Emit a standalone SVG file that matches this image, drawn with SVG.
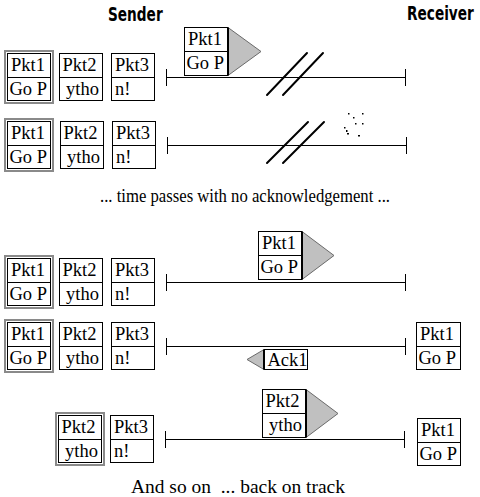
<svg xmlns="http://www.w3.org/2000/svg" width="480" height="497" viewBox="0 0 480 497">
<style>
  .box { fill: #fff; stroke: #000; stroke-width: 1; }
  .sel { fill: none; stroke: #8a8a8a; stroke-width: 2; }
  .div { stroke: #000; stroke-width: 1; }
  .t { font-family: "Liberation Serif", "Times New Roman", serif; font-size: 18.5px; fill: #000; }
  .cap { font-family: "Liberation Serif", "Times New Roman", serif; font-size: 18px; fill: #000; white-space: pre; }
  .hd { font-family: "DejaVu Sans Condensed", "Liberation Sans", sans-serif; font-size: 15.2px; font-weight: bold; fill: #000; }
  .wire { stroke: #000; stroke-width: 1; fill: none; }
  .tri { fill: #c0c0c0; stroke: #6a6a6a; stroke-width: 1; }
  .slash { stroke: #000; stroke-width: 2; stroke-linecap: round; }
</style>
<rect width="480" height="497" fill="#fff"/>

<text id="sender-title" class="hd" transform="translate(108,21) scale(1,1.25)" x="0" y="0">Sender</text>
<text id="receiver-title" class="hd" transform="translate(407,20) scale(1,1.25)" x="0" y="0">Receiver</text>

<g id="connectors">
  <!-- row 1 -->
  <line class="wire" x1="166" y1="77.5" x2="405" y2="77.5"/>
  <line class="wire" x1="166.5" y1="69" x2="166.5" y2="86"/>
  <line class="wire" x1="405.5" y1="69" x2="405.5" y2="86"/>
  <line class="slash" x1="267" y1="95" x2="307" y2="53"/>
  <line class="slash" x1="283" y1="95" x2="323" y2="53"/>
  <!-- row 2 -->
  <line class="wire" x1="167" y1="145.5" x2="406" y2="145.5"/>
  <line class="wire" x1="167.5" y1="137" x2="167.5" y2="154"/>
  <line class="wire" x1="406.5" y1="137" x2="406.5" y2="154"/>
  <line class="slash" x1="267" y1="163" x2="308" y2="122"/>
  <line class="slash" x1="283" y1="163" x2="324" y2="122"/>
  <g id="debris" fill="#000">
    <rect x="348" y="113" width="1.5" height="1.5"/>
    <rect x="362" y="113" width="1.5" height="1.5"/>
    <rect x="353" y="117" width="1.5" height="1.5"/>
    <rect x="355" y="123" width="1.5" height="1.5"/>
    <rect x="362" y="123" width="1.5" height="1.5"/>
    <rect x="344" y="127" width="1.5" height="1.5"/>
    <rect x="346" y="130" width="1.5" height="2"/>
    <rect x="347" y="133" width="2" height="1.5"/>
    <rect x="358" y="135" width="2" height="1.5"/>
  </g>
  <!-- row 3 -->
  <line class="wire" x1="166" y1="282.5" x2="405" y2="282.5"/>
  <line class="wire" x1="166.5" y1="274" x2="166.5" y2="291"/>
  <line class="wire" x1="405.5" y1="274" x2="405.5" y2="291"/>
  <!-- row 4 -->
  <line class="wire" x1="166" y1="346.5" x2="405" y2="346.5"/>
  <line class="wire" x1="166.5" y1="338" x2="166.5" y2="355"/>
  <line class="wire" x1="405.5" y1="338" x2="405.5" y2="355"/>
  <!-- row 5 -->
  <line class="wire" x1="165" y1="439.5" x2="404" y2="439.5"/>
  <line class="wire" x1="165.5" y1="431" x2="165.5" y2="448"/>
  <line class="wire" x1="404.5" y1="431" x2="404.5" y2="448"/>
</g>

<!-- Row 1 sender -->
<g id="r1-pkt1">
  <rect class="sel" x="5" y="51" width="48" height="52"/>
  <rect class="box" x="7.5" y="53.5" width="43" height="47"/>
  <line class="div" x1="7.5" y1="77.5" x2="50.5" y2="77.5"/>
  <text class="t" x="11" y="71">Pkt1</text>
  <text class="t" x="9.5" y="95">Go P</text>
</g>
<g id="r1-pkt2">
  <rect class="box" x="59.5" y="53.5" width="43" height="47"/>
  <line class="div" x1="59.5" y1="77.5" x2="102.5" y2="77.5"/>
  <text class="t" x="62.5" y="71">Pkt2</text>
  <text class="t" x="66" y="95">ytho</text>
</g>
<g id="r1-pkt3">
  <rect class="box" x="111.5" y="53.5" width="43" height="47"/>
  <line class="div" x1="111.5" y1="77.5" x2="154.5" y2="77.5"/>
  <text class="t" x="115" y="71">Pkt3</text>
  <text class="t" x="115" y="95">n!</text>
</g>
<g id="r1-flying">
  <polygon class="tri" points="228,27.5 228,75.5 261,51.5"/>
  <rect class="box" x="184.5" y="27.5" width="43" height="48"/>
  <line class="div" x1="184.5" y1="51.5" x2="227.5" y2="51.5"/>
  <line stroke="#000" stroke-width="2" x1="228" y1="27.5" x2="228" y2="75.5"/>
  <text class="t" x="188" y="45">Pkt1</text>
  <text class="t" x="186.5" y="69">Go P</text>
</g>

<!-- Row 2 sender -->
<g id="r2-pkt1">
  <rect class="sel" x="5" y="119" width="48" height="52"/>
  <rect class="box" x="7.5" y="121.5" width="43" height="47"/>
  <line class="div" x1="7.5" y1="145.5" x2="50.5" y2="145.5"/>
  <text class="t" x="11" y="139">Pkt1</text>
  <text class="t" x="9.5" y="163">Go P</text>
</g>
<g id="r2-pkt2">
  <rect class="box" x="60.5" y="121.5" width="43" height="47"/>
  <line class="div" x1="60.5" y1="145.5" x2="103.5" y2="145.5"/>
  <text class="t" x="63.5" y="139">Pkt2</text>
  <text class="t" x="67" y="163">ytho</text>
</g>
<g id="r2-pkt3">
  <rect class="box" x="112.5" y="121.5" width="43" height="47"/>
  <line class="div" x1="112.5" y1="145.5" x2="155.5" y2="145.5"/>
  <text class="t" x="116" y="139">Pkt3</text>
  <text class="t" x="116" y="163">n!</text>
</g>

<text id="caption-wait" class="cap" x="245" y="202" text-anchor="middle" textLength="290" lengthAdjust="spacingAndGlyphs">... time passes with no acknowledgement ...</text>

<!-- Row 3 -->
<g id="r3-pkt1">
  <rect class="sel" x="5" y="256" width="48" height="52"/>
  <rect class="box" x="7.5" y="258.5" width="43" height="47"/>
  <line class="div" x1="7.5" y1="282.5" x2="50.5" y2="282.5"/>
  <text class="t" x="11" y="276">Pkt1</text>
  <text class="t" x="9.5" y="300">Go P</text>
</g>
<g id="r3-pkt2">
  <rect class="box" x="59.5" y="258.5" width="43" height="47"/>
  <line class="div" x1="59.5" y1="282.5" x2="102.5" y2="282.5"/>
  <text class="t" x="62.5" y="276">Pkt2</text>
  <text class="t" x="66" y="300">ytho</text>
</g>
<g id="r3-pkt3">
  <rect class="box" x="111.5" y="258.5" width="43" height="47"/>
  <line class="div" x1="111.5" y1="282.5" x2="154.5" y2="282.5"/>
  <text class="t" x="115" y="276">Pkt3</text>
  <text class="t" x="115" y="300">n!</text>
</g>
<g id="r3-flying">
  <polygon class="tri" points="302,231.5 302,279.5 334,255.5"/>
  <rect class="box" x="258.5" y="231.5" width="43" height="48"/>
  <line class="div" x1="258.5" y1="255.5" x2="301.5" y2="255.5"/>
  <line stroke="#000" stroke-width="2" x1="302" y1="231.5" x2="302" y2="279.5"/>
  <text class="t" x="262" y="249">Pkt1</text>
  <text class="t" x="260.5" y="273">Go P</text>
</g>

<!-- Row 4 -->
<g id="r4-pkt1">
  <rect class="sel" x="5" y="320" width="48" height="52"/>
  <rect class="box" x="7.5" y="322.5" width="43" height="47"/>
  <line class="div" x1="7.5" y1="346.5" x2="50.5" y2="346.5"/>
  <text class="t" x="11" y="340">Pkt1</text>
  <text class="t" x="9.5" y="364">Go P</text>
</g>
<g id="r4-pkt2">
  <rect class="box" x="59.5" y="322.5" width="43" height="47"/>
  <line class="div" x1="59.5" y1="346.5" x2="102.5" y2="346.5"/>
  <text class="t" x="62.5" y="340">Pkt2</text>
  <text class="t" x="66" y="364">ytho</text>
</g>
<g id="r4-pkt3">
  <rect class="box" x="111.5" y="322.5" width="43" height="47"/>
  <line class="div" x1="111.5" y1="346.5" x2="154.5" y2="346.5"/>
  <text class="t" x="115" y="340">Pkt3</text>
  <text class="t" x="115" y="364">n!</text>
</g>
<g id="r4-ack1">
  <polygon class="tri" points="264,349.5 264,369.5 247,359.5"/>
  <rect class="box" x="264.5" y="349.5" width="43" height="20"/>
  <line stroke="#000" stroke-width="2" x1="264" y1="349.5" x2="264" y2="369.5"/>
  <text class="t" x="267.5" y="366">Ack1</text>
</g>
<g id="r4-recv-pkt1">
  <rect class="box" x="416.5" y="322.5" width="44" height="47"/>
  <line class="div" x1="416.5" y1="346.5" x2="460.5" y2="346.5"/>
  <text class="t" x="420" y="340">Pkt1</text>
  <text class="t" x="418.5" y="364">Go P</text>
</g>

<!-- Row 5 -->
<g id="r5-pkt2">
  <rect class="sel" x="56" y="413" width="48" height="52"/>
  <rect class="box" x="58.5" y="415.5" width="43" height="47"/>
  <line class="div" x1="58.5" y1="439.5" x2="101.5" y2="439.5"/>
  <text class="t" x="61.5" y="433">Pkt2</text>
  <text class="t" x="65" y="457">ytho</text>
</g>
<g id="r5-pkt3">
  <rect class="box" x="110.5" y="415.5" width="43" height="47"/>
  <line class="div" x1="110.5" y1="439.5" x2="153.5" y2="439.5"/>
  <text class="t" x="114" y="433">Pkt3</text>
  <text class="t" x="114" y="457">n!</text>
</g>
<g id="r5-flying">
  <polygon class="tri" points="306,389.5 306,437.5 338,413.5"/>
  <rect class="box" x="262.5" y="389.5" width="43" height="48"/>
  <line class="div" x1="262.5" y1="413.5" x2="305.5" y2="413.5"/>
  <line stroke="#000" stroke-width="2" x1="306" y1="389.5" x2="306" y2="437.5"/>
  <text class="t" x="265.5" y="407">Pkt2</text>
  <text class="t" x="269" y="431">ytho</text>
</g>
<g id="r5-recv-pkt1">
  <rect class="box" x="417.5" y="418.5" width="43" height="47"/>
  <line class="div" x1="417.5" y1="442.5" x2="460.5" y2="442.5"/>
  <text class="t" x="421" y="436">Pkt1</text>
  <text class="t" x="419.5" y="460">Go P</text>
</g>

<text id="caption-end" class="cap" x="131" y="493" style="font-size:19px" textLength="214" lengthAdjust="spacingAndGlyphs">And so on  ... back on track</text>
</svg>
